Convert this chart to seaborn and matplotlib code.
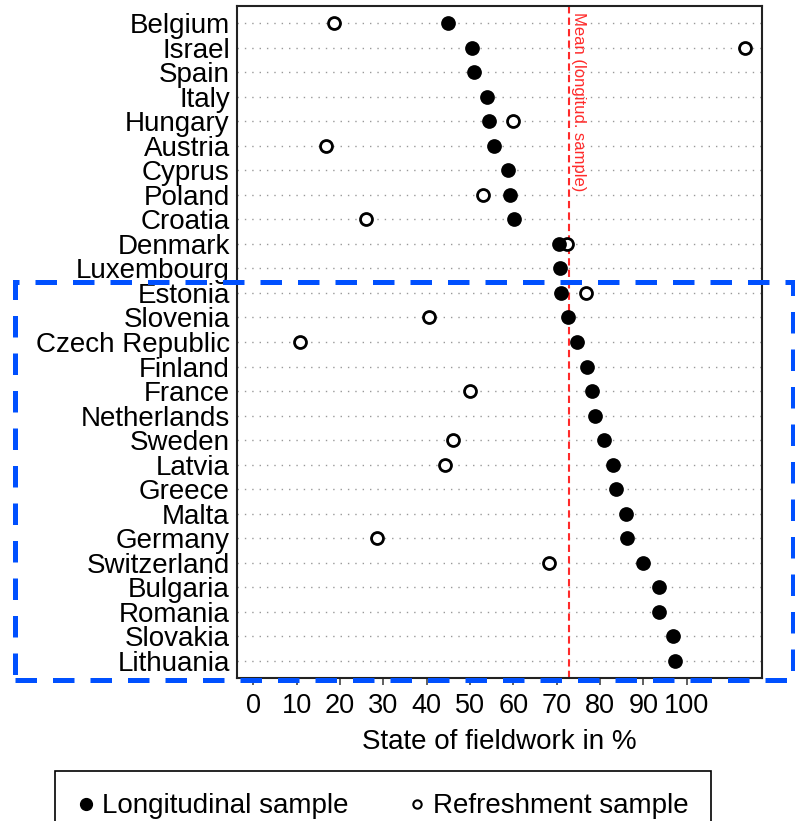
import numpy as np
import pandas as pd
import matplotlib
matplotlib.use('Agg')
import matplotlib.pyplot as plt
from matplotlib.lines import Line2D
from matplotlib.patches import Rectangle
import seaborn as sns

# data (state of fieldwork in %)
countries = ['Belgium', 'Israel', 'Spain', 'Italy', 'Hungary', 'Austria', 'Cyprus',
             'Poland', 'Croatia', 'Denmark', 'Luxembourg', 'Estonia', 'Slovenia',
             'Czech Republic', 'Finland', 'France', 'Netherlands', 'Sweden', 'Latvia',
             'Greece', 'Malta', 'Germany', 'Switzerland', 'Bulgaria', 'Romania',
             'Slovakia', 'Lithuania']
longitudinal = [45.0, 50.5, 51.0, 53.9, 54.3, 55.5, 58.7, 59.2, 60.1, 70.5, 70.7,
                70.9, 72.7, 74.8, 77.0, 78.2, 78.9, 80.9, 83.1, 83.6, 85.9, 86.3,
                89.9, 93.5, 93.6, 96.9, 97.2]
refreshment = [18.7, 113.4, np.nan, np.nan, 59.9, 16.9, np.nan, 53.0, 26.0, 72.4,
               np.nan, 76.7, 40.6, 10.7, np.nan, 49.9, np.nan, 46.1, 44.2, np.nan,
               np.nan, 28.5, 68.2, np.nan, np.nan, np.nan, np.nan]
mean_longitudinal = 72.8
x_ticks = [0, 10, 20, 30, 40, 50, 60, 70, 80, 90, 100]

df = pd.DataFrame({'country': countries, 'longitudinal': longitudinal,
                   'refreshment': refreshment})

sns.set_theme(style='white')
plt.rcParams['font.family'] = ['Liberation Sans', 'DejaVu Sans']
plt.rcParams['text.color'] = 'black'
plt.rcParams['axes.labelcolor'] = 'black'
plt.rcParams['xtick.color'] = 'black'
plt.rcParams['ytick.color'] = 'black'

fig = plt.figure(figsize=(7.95, 8.21), dpi=100)
ax = fig.add_axes([236.7 / 795, 1 - 678 / 821, 525 / 795, 672 / 821])

# open circles first so the filled ones sit on top
sns.stripplot(data=df, x='refreshment', y='country', order=countries, jitter=False,
              size=8.6, color='white', edgecolor='black', linewidth=2.0, ax=ax, zorder=3)
sns.stripplot(data=df, x='longitudinal', y='country', order=countries, jitter=False,
              size=10.6, color='black', linewidth=0, ax=ax, zorder=4)

ax.axvline(mean_longitudinal, color='#ff2a2a', ls=(0, (3.5, 2)), lw=1.5, zorder=2)
ax.text(mean_longitudinal + 0.6, -0.45, 'Mean (longitud. sample)', rotation=270,
        color='#ff2a2a', fontsize=12, ha='left', va='top')

ax.set_xlim(-3.8, 117.3)
ax.set_ylim(26.7, -0.7)
ax.set_xticks(x_ticks)
ax.set_xlabel('State of fieldwork in %', fontsize=20, labelpad=7)
ax.set_ylabel('')
ax.tick_params(axis='x', labelsize=19.5, direction='out', length=5, width=1.2,
               color='#444444', labelcolor='black', pad=6, bottom=True)
ax.tick_params(axis='y', labelsize=20, length=0, pad=5, labelcolor='black')
ax.yaxis.grid(True, ls=(0, (1, 4.3)), color='#999999', lw=1)
ax.xaxis.grid(False)
ax.set_axisbelow(True)
for s in ax.spines.values():
    s.set_color('#222222')
    s.set_linewidth(1.5)

# legend box at the bottom
handles = [Line2D([], [], ls='none', marker='o', markersize=8.5, color='black'),
           Line2D([], [], ls='none', marker='o', markersize=6, markerfacecolor='white',
                  markeredgecolor='black', markeredgewidth=1.5)]
leg = fig.legend(handles, ['Longitudinal sample', 'Refreshment sample'], ncol=2,
                 loc='upper left', bbox_to_anchor=(55 / 795, 1 - 771 / 821),
                 borderaxespad=0, fontsize=20, frameon=True, fancybox=False,
                 framealpha=1, handlelength=0.6, handletextpad=0.3, borderpad=0.8,
                 columnspacing=2.15)
leg.get_frame().set_edgecolor('black')
leg.get_frame().set_linewidth(1.2)

# blue dashed highlight box
fig.add_artist(Rectangle((15 / 795, 1 - 680 / 821), 778 / 795, 398 / 821,
                         transform=fig.transFigure, fill=False, edgecolor='#0050ff',
                         lw=3.6, ls=(0, (4.3, 3.2)), zorder=10))

fig.savefig('out.png', dpi=100)
